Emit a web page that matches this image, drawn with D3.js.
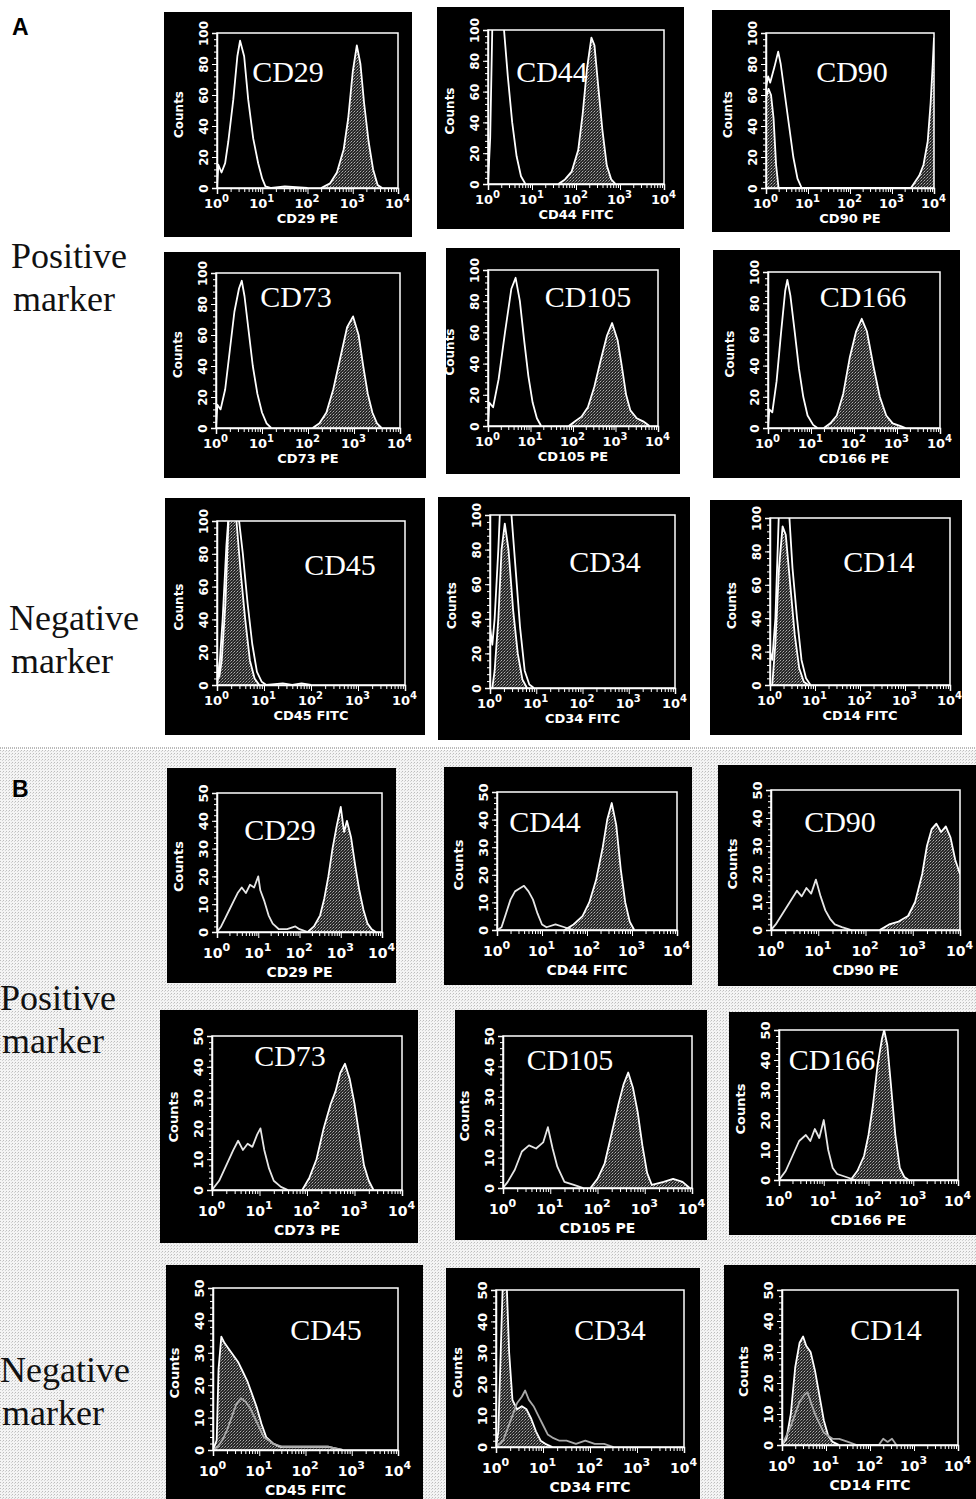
<!DOCTYPE html>
<html><head><meta charset="utf-8">
<script src="https://cdn.jsdelivr.net/npm/d3@7"></script>
<style>
body{margin:0;background:#fff}
svg{display:block}
</style></head><body>
<script>
// marker names and channel labels, same order in A and B
const markers = ["CD29","CD44","CD90","CD73","CD105","CD166","CD45","CD34","CD14"];
const channels = ["CD29 PE","CD44 FITC","CD90 PE","CD73 PE","CD105 PE","CD166 PE","CD45 FITC","CD34 FITC","CD14 FITC"];
const xDecades = [0,1,2,3,4];
const yTicksA = [0,20,40,60,80,100];
const yTicksB = [0,10,20,30,40,50];
const rowLabels = [["Positive","marker"],["Negative","marker"]];

// histograms: [log10 fluorescence, counts]. ctl = isotype control, stn = stained
// --- A ---
const aCD29ctl = [[0,0],[0.03,15],[0.1,10],[0.18,16],[0.25,30],[0.36,57],[0.45,85],[0.51,95],[0.6,85],[0.69,57],[0.8,32],[0.91,16],[1.0,6],[1.07,1],[1.2,0],[1.5,1],[2.0,0]];
const aCD29stn = [[2.3,0],[2.5,3],[2.65,10],[2.8,25],[2.9,45],[3.0,75],[3.09,92],[3.17,80],[3.25,55],[3.35,30],[3.45,12],[3.55,2],[3.65,0]];
const aCD44ctl = [[0,0],[0.05,30],[0.1,105],[0.35,105],[0.45,70],[0.55,40],[0.65,18],[0.75,5],[0.85,0]];
const aCD44stn = [[1.6,0],[1.75,3],[1.9,8],[2.05,22],[2.15,45],[2.25,75],[2.35,95],[2.42,90],[2.5,65],[2.6,35],[2.7,12],[2.8,3],[2.9,0]];
const aCD90ctl = [[0,65],[0.05,72],[0.1,68],[0.2,78],[0.29,88],[0.35,80],[0.45,60],[0.55,40],[0.65,20],[0.75,6],[0.85,0]];
const aCD90stn = [[0,58],[0.06,64],[0.12,60],[0.18,45],[0.24,15],[0.3,0],[3.45,0],[3.55,4],[3.65,8],[3.75,15],[3.85,30],[3.92,55],[3.97,80],[4.0,97]];
const aCD73ctl = [[0,0],[0.03,15],[0.1,12],[0.2,25],[0.3,50],[0.4,75],[0.5,90],[0.56,95],[0.62,85],[0.7,65],[0.8,40],[0.9,22],[1.0,10],[1.1,3],[1.2,0]];
const aCD73stn = [[2.1,0],[2.25,3],[2.4,10],[2.55,25],[2.7,45],[2.85,65],[2.98,72],[3.1,60],[3.2,40],[3.3,22],[3.4,10],[3.5,3],[3.6,0]];
const aCD105ctl = [[0,0],[0.03,15],[0.12,12],[0.25,30],[0.4,60],[0.55,88],[0.65,95],[0.75,80],[0.85,55],[0.95,32],[1.05,15],[1.15,5],[1.25,0]];
const aCD105stn = [[1.9,0],[2.05,3],[2.2,6],[2.35,12],[2.5,25],[2.65,42],[2.8,58],[2.92,66],[3.05,55],[3.15,38],[3.25,20],[3.35,10],[3.5,5],[3.65,3],[3.8,0]];
const aCD166ctl = [[0,0],[0.03,12],[0.1,10],[0.2,30],[0.3,60],[0.4,88],[0.45,95],[0.52,85],[0.62,62],[0.72,38],[0.82,20],[0.92,8],[1.05,2],[1.15,0]];
const aCD166stn = [[1.3,0],[1.45,3],[1.6,8],[1.75,22],[1.9,45],[2.05,62],[2.18,70],[2.3,62],[2.45,40],[2.6,20],[2.75,8],[2.9,3],[3.1,1],[3.2,0]];
const aCD45ctl = [[0,15],[0.05,5],[0.1,15],[0.18,50],[0.25,105],[0.45,105],[0.55,80],[0.65,50],[0.75,25],[0.85,8],[0.95,2],[1.05,0],[1.4,1],[1.6,0],[1.8,1],[2.0,0]];
const aCD45stn = [[0,0],[0.05,10],[0.12,40],[0.2,85],[0.25,105],[0.4,105],[0.5,70],[0.6,40],[0.7,15],[0.8,4],[0.9,0]];
const aCD34ctl = [[0,35],[0.05,25],[0.1,40],[0.18,80],[0.22,105],[0.45,105],[0.55,70],[0.65,35],[0.75,10],[0.85,2],[0.95,0]];
const aCD34stn = [[0.05,0],[0.1,10],[0.18,40],[0.25,80],[0.32,95],[0.4,80],[0.5,45],[0.6,20],[0.7,5],[0.8,0]];
const aCD14ctl = [[0,20],[0.05,15],[0.12,40],[0.2,105],[0.42,105],[0.5,70],[0.6,40],[0.7,15],[0.8,4],[0.9,0]];
const aCD14stn = [[0.05,0],[0.12,25],[0.2,70],[0.28,95],[0.35,90],[0.45,60],[0.55,30],[0.65,10],[0.75,2],[0.85,0]];
// --- B ---
const bCD29ctl = [[0,0],[0.1,2],[0.2,5],[0.3,8],[0.4,11],[0.5,14],[0.6,16],[0.7,14],[0.8,17],[0.9,16],[1.0,20],[1.05,15],[1.15,11],[1.25,6],[1.35,3],[1.5,1],[1.7,1],[1.9,2],[2.0,1],[2.2,0]];
const bCD29stn = [[2.2,0],[2.35,2],[2.5,6],[2.6,12],[2.7,20],[2.8,30],[2.9,38],[3.0,45],[3.08,36],[3.15,40],[3.25,34],[3.35,24],[3.45,15],[3.55,8],[3.65,3],[3.75,1],[3.85,0]];
const bCD44ctl = [[0,0],[0.1,1],[0.2,6],[0.3,11],[0.4,14],[0.5,15],[0.6,16],[0.7,14],[0.8,11],[0.9,6],[1.0,2],[1.1,1],[1.3,2],[1.5,1],[1.7,0]];
const bCD44stn = [[1.5,0],[1.7,2],[1.9,5],[2.05,10],[2.2,18],[2.35,30],[2.45,40],[2.55,46],[2.65,38],[2.75,22],[2.85,10],[2.95,3],[3.05,0]];
const bCD90ctl = [[0,0],[0.1,2],[0.25,6],[0.4,10],[0.55,14],[0.65,12],[0.75,15],[0.85,13],[0.95,18],[1.05,12],[1.15,7],[1.25,4],[1.35,2],[1.5,1],[1.7,0]];
const bCD90stn = [[2.3,0],[2.5,2],[2.7,3],[2.9,5],[3.05,10],[3.2,20],[3.3,30],[3.4,36],[3.5,38],[3.6,35],[3.7,37],[3.8,33],[3.9,25],[4.0,20]];
const bCD73ctl = [[0,0],[0.15,3],[0.3,8],[0.45,13],[0.55,16],[0.65,13],[0.75,15],[0.85,14],[0.95,18],[1.02,20],[1.1,13],[1.2,7],[1.3,3],[1.45,1],[1.6,0]];
const bCD73stn = [[1.9,0],[2.05,4],[2.2,10],[2.35,20],[2.5,28],[2.6,32],[2.7,38],[2.8,41],[2.9,36],[3.0,28],[3.1,18],[3.2,8],[3.3,3],[3.4,0]];
const bCD105ctl = [[0,0],[0.1,2],[0.25,6],[0.4,12],[0.55,14],[0.7,13],[0.85,15],[0.95,20],[1.05,13],[1.15,7],[1.3,2],[1.5,1],[1.7,0]];
const bCD105stn = [[1.85,0],[2.0,3],[2.15,8],[2.3,18],[2.45,28],[2.55,34],[2.65,38],[2.75,33],[2.85,25],[2.95,14],[3.05,5],[3.15,1],[3.4,2],[3.6,3],[3.8,2],[3.95,0]];
const bCD166ctl = [[0,0],[0.15,3],[0.3,8],[0.45,13],[0.6,15],[0.7,13],[0.8,17],[0.9,14],[1.0,20],[1.1,10],[1.2,4],[1.3,2],[1.5,1],[1.7,0]];
const bCD166stn = [[1.6,0],[1.75,3],[1.9,8],[2.0,15],[2.1,25],[2.2,38],[2.3,47],[2.35,50],[2.42,45],[2.5,32],[2.6,15],[2.7,4],[2.8,1],[2.9,0]];
const bCD45ctl = [[0,0],[0.1,1],[0.2,3],[0.3,6],[0.4,10],[0.5,14],[0.6,16],[0.7,15],[0.8,13],[0.9,10],[1.0,7],[1.1,4],[1.2,3],[1.3,2],[1.5,1],[2.0,1],[2.5,1],[2.8,0]];
const bCD45stn = [[0,0],[0.08,3],[0.12,25],[0.18,35],[0.25,33],[0.35,31],[0.45,29],[0.55,27],[0.65,24],[0.75,21],[0.85,17],[0.95,13],[1.05,8],[1.15,4],[1.3,2],[1.45,1],[2.0,1],[2.5,1],[2.8,0]];
const bCD34ctl = [[0,0],[0.15,2],[0.3,8],[0.45,14],[0.55,16],[0.62,18],[0.7,15],[0.8,13],[0.9,10],[1.0,7],[1.1,4],[1.2,3],[1.35,2],[1.5,2],[1.7,1],[1.9,2],[2.1,1],[2.3,1],[2.5,0]];
const bCD34stn = [[0,0],[0.05,5],[0.1,30],[0.15,55],[0.22,55],[0.28,30],[0.35,15],[0.45,12],[0.55,13],[0.65,12],[0.75,9],[0.85,5],[0.95,2],[1.05,1],[1.2,0]];
const bCD14ctl = [[0,0],[0.1,3],[0.2,6],[0.3,10],[0.4,14],[0.5,16],[0.58,17],[0.65,14],[0.75,10],[0.85,7],[0.95,4],[1.05,3],[1.15,2],[1.3,2],[1.5,1],[1.7,0],[2.2,0],[2.3,2],[2.4,1],[2.5,2],[2.6,0]];
const bCD14stn = [[0,0],[0.1,2],[0.2,10],[0.3,25],[0.4,33],[0.48,35],[0.55,32],[0.65,30],[0.75,24],[0.85,16],[0.95,8],[1.05,3],[1.15,1],[1.3,0]];

const histA = [[aCD29ctl,aCD29stn],[aCD44ctl,aCD44stn],[aCD90ctl,aCD90stn],[aCD73ctl,aCD73stn],[aCD105ctl,aCD105stn],[aCD166ctl,aCD166stn],[aCD45ctl,aCD45stn],[aCD34ctl,aCD34stn],[aCD14ctl,aCD14stn]];
const histB = [[bCD29ctl,bCD29stn],[bCD44ctl,bCD44stn],[bCD90ctl,bCD90stn],[bCD73ctl,bCD73stn],[bCD105ctl,bCD105stn],[bCD166ctl,bCD166stn],[bCD45ctl,bCD45stn],[bCD34ctl,bCD34stn],[bCD14ctl,bCD14stn]];

// layout: black box [x0,y0,x1,y1], plot frame [left,top,right,baseline], marker label [cx,baseline]
const layoutA = [
  {box:[164,12,412,237], frame:[217,33,398,188], lab:[288,82]},
  {box:[437,7,684,229],  frame:[488,30,664,184], lab:[552,82]},
  {box:[712,10,950,232], frame:[766,33,934,188], lab:[852,82]},
  {box:[164,252,426,478],frame:[216,273,400,428],lab:[296,307]},
  {box:[446,248,680,474],frame:[488,270,658,426],lab:[588,307]},
  {box:[713,250,960,478],frame:[768,272,940,428],lab:[863,307]},
  {box:[165,498,425,735],frame:[217,521,405,685],lab:[340,575]},
  {box:[438,497,690,740],frame:[490,515,675,688],lab:[605,572]},
  {box:[710,500,962,735],frame:[770,518,950,685],lab:[879,572]}
];
const layoutB = [
  {box:[167,768,396,983], frame:[217,793,382,932], lab:[280,840]},
  {box:[444,767,692,985], frame:[497,792,677,930], lab:[545,832]},
  {box:[718,765,976,986], frame:[771,790,960,930], lab:[840,832]},
  {box:[160,1010,418,1243],frame:[212,1036,402,1190],lab:[290,1066]},
  {box:[455,1010,707,1240],frame:[503,1036,692,1188],lab:[570,1070]},
  {box:[729,1012,976,1235],frame:[779,1030,958,1180],lab:[832,1070]},
  {box:[166,1265,423,1499],frame:[213,1288,398,1450],lab:[326,1340]},
  {box:[446,1268,700,1499],frame:[496,1290,684,1447],lab:[610,1340]},
  {box:[724,1265,976,1499],frame:[782,1290,958,1445],lab:[886,1340]}
];

const W = 976, H = 1499;
const svg = d3.select("body").append("svg").attr("width",W).attr("height",H);
const defs = svg.append("defs");

// stipple fill for stained histograms
const stip = defs.append("pattern").attr("id","stip")
  .attr("width",3).attr("height",3).attr("patternUnits","userSpaceOnUse");
stip.append("rect").attr("width",3).attr("height",3).attr("fill","#262626");
stip.append("rect").attr("width",1).attr("height",1).attr("fill","#b0b0b0");
stip.append("rect").attr("x",2).attr("y",1).attr("width",1).attr("height",1).attr("fill","#808080");
stip.append("rect").attr("x",1).attr("y",2).attr("width",1).attr("height",1).attr("fill","#5e5e5e");

// scanned paper texture for lower half
const paper = defs.append("pattern").attr("id","paper")
  .attr("width",3).attr("height",3).attr("patternUnits","userSpaceOnUse");
paper.append("rect").attr("width",3).attr("height",3).attr("fill","#f4f4f4");
paper.append("rect").attr("width",1).attr("height",1).attr("fill","#bdbdbd");
paper.append("rect").attr("x",2).attr("y",1).attr("width",1).attr("height",1).attr("fill","#d4d4d4");

svg.append("rect").attr("width",W).attr("height",H).attr("fill","#fff");
svg.append("rect").attr("y",750).attr("width",W).attr("height",H-750).attr("fill","url(#paper)");

// divider
svg.append("line").attr("x1",0).attr("x2",W).attr("y1",748).attr("y2",748)
  .attr("stroke","#777").attr("stroke-width",1).attr("stroke-dasharray","1,1");

// section letters
svg.append("text").attr("x",12).attr("y",35).text("A")
  .attr("font-family","Liberation Sans, Arial, sans-serif").attr("font-weight","bold").attr("font-size",23);
svg.append("text").attr("x",12).attr("y",797).text("B")
  .attr("font-family","Liberation Sans, Arial, sans-serif").attr("font-weight","bold").attr("font-size",23);

// row labels
const rowPos = [[11,268],[9,630],[0,1010],[0,1382]];
rowPos.forEach((p,i) => {
  const t = svg.append("text").attr("x",p[0]).attr("y",p[1])
    .attr("font-family","Liberation Serif, Times New Roman, serif").attr("font-size",36).attr("fill","#111");
  const lbl = rowLabels[i % 2];
  t.append("tspan").attr("x",p[0]).text(lbl[0]);
  t.append("tspan").attr("x",p[0]+2).attr("dy",43).text(lbl[1]);
});

let clipId = 0;
function drawPanel(lay, name, chan, ctl, stn, yTicks, sec, negative) {
  const [bx0,by0,bx1,by1] = lay.box;
  const [fx0,fy0,fx1,fy1] = lay.frame;
  const ymax = yTicks[yTicks.length-1];
  const big = sec === "B";
  const g = svg.append("g");
  g.append("rect").attr("x",bx0).attr("y",by0).attr("width",bx1-bx0).attr("height",by1-by0).attr("fill","#000");

  const x = d3.scaleLog().domain([1,1e4]).range([fx0,fx1]);
  const y = d3.scaleLinear().domain([0,ymax]).range([fy1,fy0]);

  const id = "clip" + (clipId++);
  defs.append("clipPath").attr("id",id).append("rect")
    .attr("x",fx0).attr("y",fy0).attr("width",fx1-fx0).attr("height",fy1-fy0);
  const plot = g.append("g").attr("clip-path","url(#"+id+")");

  const px = d => x(Math.pow(10,d[0]));
  const area = d3.area().x(px).y0(y(0)).y1(d => y(d[1]));
  const line = d3.line().x(px).y(d => y(d[1]));

  plot.append("path").datum(stn).attr("d",area).attr("fill","url(#stip)");
  plot.append("path").datum(stn).attr("d",line).attr("fill","none")
    .attr("stroke","#fff").attr("stroke-width",1.8).attr("stroke-linejoin","round");
  plot.append("path").datum(ctl).attr("d",line).attr("fill","none")
    .attr("stroke", (big && negative) ? "#a9a9a9" : (big ? "#e6e6e6" : "#fff"))
    .attr("stroke-width",1.8).attr("stroke-linejoin","round");

  // frame
  g.append("rect").attr("x",fx0).attr("y",fy0).attr("width",fx1-fx0).attr("height",fy1-fy0)
    .attr("fill","none").attr("stroke","#fff").attr("stroke-width",1.5);

  // x axis: log decades with minor ticks
  const minor = [];
  for (let e = 0; e < 4; e++) for (let m = 2; m < 10; m++) minor.push(m*Math.pow(10,e));
  g.append("g").attr("transform","translate(0,"+fy1+")").attr("color","#fff")
    .call(d3.axisBottom(x).tickValues(minor).tickSize(4).tickFormat(""))
    .call(a => a.select(".domain").remove());
  const xa = g.append("g").attr("transform","translate(0,"+fy1+")").attr("color","#fff")
    .call(d3.axisBottom(x).tickValues(xDecades.map(e => Math.pow(10,e))).tickSize(6).tickFormat(""));
  xa.select(".domain").attr("stroke-width",1.5);
  xa.selectAll(".tick").each(function(v,i) {
    const t = d3.select(this).append("text")
      .attr("y", big ? 26 : 20).attr("x",-1).attr("text-anchor","middle")
      .attr("fill","#fff").attr("font-family","DejaVu Sans, sans-serif").attr("font-weight","bold")
      .attr("font-size", big ? 14 : 13);
    t.append("tspan").text("10");
    t.append("tspan").attr("dy", big ? -7 : -6).attr("font-size", big ? 11 : 10).text(xDecades[i]);
  });

  // y axis
  const yminor = d3.range(0, ymax+0.01, ymax/25);
  g.append("g").attr("transform","translate("+fx0+",0)").attr("color","#fff")
    .call(d3.axisLeft(y).tickValues(yminor).tickSize(3).tickFormat(""))
    .call(a => a.select(".domain").remove());
  const ya = g.append("g").attr("transform","translate("+fx0+",0)").attr("color","#fff")
    .call(d3.axisLeft(y).tickValues(yTicks).tickSize(5));
  ya.select(".domain").attr("stroke-width",1.5);
  ya.selectAll(".tick text")
    .attr("transform","rotate(-90)").attr("x",0).attr("y",-9).attr("dy",0)
    .attr("text-anchor","middle").attr("fill","#fff")
    .attr("font-family","DejaVu Sans, sans-serif").attr("font-weight","bold")
    .attr("font-size", big ? 13 : 12);

  // axis titles
  g.append("text").attr("transform","translate("+(fx0-34)+","+((fy0+fy1)/2+4)+") rotate(-90)")
    .attr("text-anchor","middle").attr("fill","#fff")
    .attr("font-family","DejaVu Sans, sans-serif").attr("font-weight","bold")
    .attr("font-size", big ? 13 : 12).text("Counts");
  g.append("text").attr("x",(fx0+fx1)/2).attr("y",fy1 + (big ? 45 : 35))
    .attr("text-anchor","middle").attr("fill","#fff")
    .attr("font-family","DejaVu Sans, sans-serif").attr("font-weight","bold")
    .attr("font-size", big ? 14 : 13).text(chan);

  // marker name
  g.append("text").attr("x",lay.lab[0]).attr("y",lay.lab[1]).attr("text-anchor","middle")
    .attr("fill","#fff").attr("font-family","Liberation Serif, Times New Roman, serif")
    .attr("font-size",30).text(name);
}

markers.forEach((m,i) => {
  drawPanel(layoutA[i], m, channels[i], histA[i][0], histA[i][1], yTicksA, "A", i >= 6);
  drawPanel(layoutB[i], m, channels[i], histB[i][0], histB[i][1], yTicksB, "B", i >= 6);
});
</script></body></html>
